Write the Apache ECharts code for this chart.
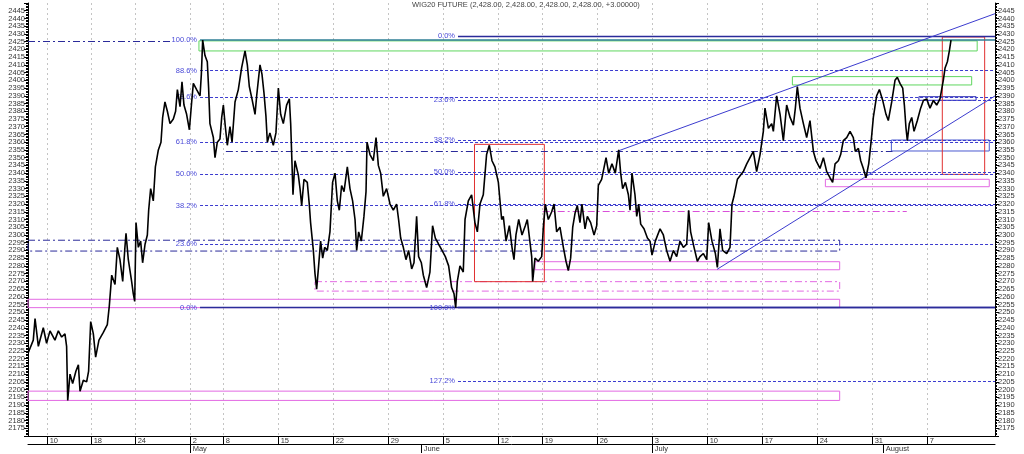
<!DOCTYPE html>
<html>
<head>
<meta charset="utf-8">
<title>WIG20 FUTURE</title>
<script src="https://cdn.jsdelivr.net/npm/echarts@6.0.0/dist/echarts.min.js"></script>
<style>
html, body { margin: 0; padding: 0; background: #fff; }
#chart { width: 1024px; height: 454px; }
</style>
</head>
<body>
<div id="chart"></div>
<script>
// x = trading day number (0 = 4 April 2017), y = index points
var pricePath = [
    [2.24,2224],[2.69,2232],[2.85,2246],[3.15,2228],[3.6,2240],[3.9,2230],[4.21,2238],[4.66,2232],[4.97,2238],[5.27,2234],
    [5.57,2236],[5.72,2228],[5.82,2193],[6.03,2210],[6.27,2204],[6.57,2212],[6.79,2216],[6.94,2199],[7.24,2206],[7.54,2205],
    [7.72,2212],[7.91,2244],[8.15,2236],[8.36,2221],[8.66,2232],[9.06,2237],[9.42,2242],[9.6,2254],[9.82,2274],[10.12,2268],
    [10.33,2292],[10.57,2284],[10.82,2270],[11.0,2290],[11.12,2301],[11.33,2284],[11.63,2270],[11.78,2262],[11.91,2257],[12.03,2308],
    [12.24,2292],[12.45,2296],[12.63,2282],[12.85,2294],[13.06,2300],[13.18,2316],[13.36,2330],[13.6,2322],[13.79,2344],[14.06,2355],
    [14.3,2360],[14.45,2376],[14.66,2386],[14.88,2380],[15.12,2372],[15.42,2375],[15.63,2380],[15.79,2394],[16.03,2383],[16.21,2399],
    [16.39,2384],[16.63,2378],[16.88,2368],[17.09,2386],[17.24,2398],[17.54,2394],[17.85,2390],[17.97,2404],[18.09,2426],[18.3,2416],
    [18.51,2412],[18.63,2395],[18.75,2372],[19.06,2363],[19.21,2350],[19.42,2360],[19.66,2362],[19.82,2376],[19.97,2384],[20.15,2370],
    [20.33,2358],[20.57,2370],[20.76,2360],[21.03,2386],[21.33,2394],[21.63,2408],[21.94,2419],[22.15,2410],[22.33,2396],[22.57,2388],
    [22.85,2378],[23.0,2390],[23.3,2410],[23.48,2404],[23.66,2392],[23.84,2377],[23.97,2360],[24.2,2366],[24.51,2358],[24.75,2366],
    [24.97,2395],[25.18,2378],[25.42,2372],[25.72,2384],[25.97,2388],[26.09,2372],[26.21,2346],[26.3,2326],[26.48,2348],[26.78,2339],
    [26.94,2330],[27.09,2319],[27.3,2336],[27.6,2334],[27.78,2320],[27.9,2308],[28.15,2290],[28.3,2275],[28.45,2265],[28.63,2280],
    [28.81,2296],[29.0,2285],[29.18,2292],[29.42,2290],[29.66,2302],[29.9,2334],[30.12,2340],[30.33,2322],[30.51,2316],[30.72,2332],
    [30.94,2328],[31.24,2344],[31.48,2330],[31.72,2322],[31.94,2310],[32.09,2290],[32.27,2302],[32.51,2296],[32.75,2312],[32.94,2328],
    [33.03,2360],[33.3,2352],[33.6,2348],[33.85,2363],[34.06,2345],[34.27,2340],[34.51,2325],[34.81,2330],[35.12,2320],[35.42,2316],
    [35.72,2320],[35.9,2310],[36.09,2298],[36.33,2292],[36.57,2284],[36.81,2290],[37.09,2278],[37.3,2282],[37.54,2312],[37.72,2286],
    [37.97,2282],[38.15,2274],[38.45,2266],[38.75,2276],[38.99,2306],[39.24,2298],[39.54,2294],[39.85,2290],[40.15,2286],[40.45,2280],
    [40.72,2266],[40.94,2262],[41.09,2253],[41.24,2270],[41.48,2280],[41.78,2276],[41.94,2310],[42.24,2322],[42.54,2326],[42.84,2308],
    [43.06,2302],[43.3,2320],[43.6,2326],[43.9,2352],[44.15,2358],[44.39,2348],[44.66,2344],[44.97,2334],[45.27,2310],[45.42,2312],
    [45.67,2296],[45.97,2306],[46.21,2292],[46.39,2284],[46.57,2300],[46.82,2310],[47.12,2300],[47.42,2306],[47.6,2310],[47.85,2295],
    [48.0,2286],[48.09,2270],[48.3,2285],[48.6,2283],[48.91,2286],[49.06,2305],[49.24,2320],[49.51,2310],[49.82,2315],[50.03,2320],
    [50.27,2302],[50.57,2305],[50.88,2292],[51.12,2283],[51.33,2277],[51.54,2285],[51.73,2305],[51.94,2314],[52.15,2319],[52.39,2308],
    [52.57,2320],[52.85,2304],[53.06,2312],[53.36,2308],[53.67,2300],[53.91,2306],[54.06,2332],[54.36,2336],[54.76,2350],[55.0,2340],
    [55.3,2346],[55.6,2340],[55.91,2355],[56.09,2340],[56.27,2330],[56.52,2334],[56.79,2326],[56.94,2316],[57.12,2340],[57.39,2326],
    [57.55,2312],[57.73,2320],[57.91,2307],[58.21,2304],[58.52,2298],[58.76,2296],[58.94,2287],[59.24,2296],[59.67,2304],[59.97,2300],
    [60.27,2290],[60.58,2283],[60.88,2290],[61.18,2286],[61.48,2296],[61.79,2292],[62.09,2294],[62.27,2316],[62.45,2302],[62.76,2292],
    [63.06,2283],[63.3,2286],[63.61,2288],[63.91,2284],[64.09,2308],[64.39,2296],[64.7,2288],[64.88,2279],[65.12,2304],[65.36,2290],
    [65.73,2288],[66.03,2292],[66.21,2320],[66.39,2325],[66.7,2336],[67.24,2341],[67.55,2346],[67.85,2350],[68.15,2354],[68.45,2341],
    [68.76,2352],[69.06,2367],[69.21,2382],[69.52,2369],[69.82,2372],[69.97,2367],[70.27,2390],[70.58,2378],[70.88,2361],[71.18,2384],
    [71.49,2376],[71.79,2371],[71.97,2382],[72.15,2396],[72.39,2382],[72.7,2372],[73.0,2363],[73.3,2374],[73.61,2354],[73.85,2348],
    [74.21,2343],[74.52,2350],[74.82,2341],[75.12,2337],[75.36,2334],[75.58,2346],[75.88,2348],[76.09,2352],[76.33,2361],[76.64,2363],
    [76.94,2367],[77.24,2363],[77.42,2354],[77.7,2356],[77.91,2348],[78.15,2343],[78.39,2337],[78.64,2346],[78.88,2362],[79.06,2376],
    [79.36,2390],[79.61,2394],[79.91,2387],[80.21,2378],[80.42,2374],[80.73,2386],[81.03,2400],[81.24,2402],[81.48,2398],[81.73,2395],
    [81.88,2384],[82.03,2369],[82.15,2361],[82.33,2372],[82.55,2376],[82.76,2367],[83.06,2374],[83.36,2382],[83.61,2387],[83.91,2388],
    [84.21,2382],[84.52,2387],[84.82,2384],[85.12,2388],[85.27,2394],[85.42,2400],[85.58,2408],[85.79,2412],[85.97,2419],[86.12,2426]
];

var weekTickDays = [4, 8, 12, 17, 20, 25, 30, 35, 40, 45, 49, 54, 59, 64, 69, 74, 79, 84];
var weekTickLabels = ['10', '18', '24', '2', '8', '15', '22', '29', '5', '12', '19', '26', '3', '10', '17', '24', '31', '7'];
var monthTickDays = [17, 38, 59, 80];
var monthTickLabels = ['May', 'June', 'July', 'August'];

// fibonacci sets: [start day, end day], levels and labels
var fibLeftSpan = [17.85, 90.12];
var fibLeftLabels = ['100.0%', '88.6%', '78.6%', '61.8%', '50.0%', '38.2%', '23.6%', '0.0%'];
var fibLeftValues = [2426, 2406.3, 2389, 2360, 2339.5, 2319, 2294, 2253];
var fibRightSpan = [41.3, 90.12];
var fibRightLabels = ['0.0%', '23.6%', '38.2%', '50.0%', '61.8%', '100.0%', '127.2%'];
var fibRightValues = [2428.5, 2387, 2361.5, 2340.7, 2320, 2253, 2205.5];

// zones: [day from, top, day to, bottom]
var greenZones = [[17.75, 2425.5, 88.5, 2419], [71.7, 2402.4, 88.0, 2397]];
var navyZones = [[83.2, 2389.4, 88.4, 2387.1]];
var blueZones = [[80.7, 2361.4, 89.6, 2354.3]];
var pinkZones = [[74.7, 2336, 89.6, 2331.2], [48.3, 2282.7, 76.0, 2277.5], [2.21, 2258.4, 76.0, 2253], [2.21, 2199, 76.0, 2193]];
var pinkDashZones = [[28.3, 2269.8, 76.0, 2263.7]];
var navyDashZones = [[2.21, 2296.6, 76.0, 2289.6]];
var redZones = [[42.8, 2358.6, 49.15, 2269.8], [85.33, 2428, 89.18, 2339.2]];

// lines: [day from, day to, level]
var navyDashLines = [[2.21, 15.4, 2425.5], [20.2, 80.8, 2354.3]];
var pinkDashLines = [[49.0, 82.1, 2315.5]];
// trend lines: [day, value, day, value]
var trendLines = [[55.85, 2354.3, 90.12, 2443.1], [64.86, 2277.8, 90.12, 2389.9]];

var fontFamily = 'Liberation Sans, Arial, sans-serif';
var dashDot = [7, 3, 2, 3];

var fibDash = { color: '#3c3ccf', width: 1, type: [3, 2] };
var navySolid = { color: '#2b2b9a', width: 1.3, type: 'solid' };
var tealSolid = { color: '#2f7f96', width: 1.6, type: 'solid' };

function $each(arr, fn) {
    for (var i = 0; i < arr.length; i++) fn(arr[i], i);
}

function fibLabel(text) {
    return {
        show: true, position: 'start', distance: 3, formatter: text,
        color: '#4a4ad8', fontSize: 7.5, fontFamily: fontFamily
    };
}

function hLine(d1, d2, v, style, text) {
    return [
        { coord: [d1, v], lineStyle: style, label: text ? fibLabel(text) : { show: false } },
        { coord: [d2, v] }
    ];
}

function box(z, color, type) {
    return [
        { coord: [z[0], z[1]], itemStyle: { color: 'rgba(0,0,0,0)', borderColor: color, borderWidth: 1, borderType: type || 'solid' } },
        { coord: [z[2], z[3]] }
    ];
}

var lines = [];
$each(fibLeftValues, function(v, i) {
    var style = fibDash;
    if (i === 0) style = tealSolid;
    if (fibLeftLabels[i] === '0.0%') style = navySolid;
    lines.push(hLine(fibLeftSpan[0], fibLeftSpan[1], v, style, fibLeftLabels[i]));
});
$each(fibRightValues, function(v, i) {
    var style = (fibRightLabels[i] === '0.0%' || fibRightLabels[i] === '100.0%') ? navySolid : fibDash;
    lines.push(hLine(fibRightSpan[0], fibRightSpan[1], v, style, fibRightLabels[i]));
});
$each(navyDashLines, function(l) {
    lines.push(hLine(l[0], l[1], l[2], { color: '#2b2b9a', width: 1, type: dashDot }));
});
$each(pinkDashLines, function(l) {
    lines.push(hLine(l[0], l[1], l[2], { color: '#d94fd9', width: 1, type: dashDot }));
});
$each(trendLines, function(t) {
    lines.push([
        { coord: [t[0], t[1]], lineStyle: { color: '#3c3ccf', width: 1, type: 'solid' }, label: { show: false } },
        { coord: [t[2], t[3]] }
    ]);
});

var areas = [];
$each(greenZones, function(z) { areas.push(box(z, '#5fd65f')); });
$each(navyZones, function(z) { areas.push(box(z, '#2b2bb0')); });
$each(blueZones, function(z) { areas.push(box(z, '#4a5ad0')); });
$each(pinkZones, function(z) { areas.push(box(z, '#e36ae3')); });
$each(pinkDashZones, function(z) { areas.push(box(z, '#e36ae3', dashDot)); });
$each(navyDashZones, function(z) { areas.push(box(z, '#2b2b9a', dashDot)); });
$each(redZones, function(z) { areas.push(box(z, '#e03030')); });

function priceAxis(position) {
    return {
        type: 'value',
        position: position,
        min: 2170,
        max: 2450,
        interval: 5,
        axisLine: { show: true, lineStyle: { color: '#000', width: 1 } },
        axisTick: { show: true, length: 4, lineStyle: { color: '#000' } },
        minorTick: { show: true, splitNumber: 5, length: 2, lineStyle: { color: '#000' } },
        splitLine: { show: false },
        axisLabel: {
            fontSize: 7.5, color: '#333', margin: 3, fontFamily: fontFamily,
            showMinLabel: false, showMaxLabel: false,
            formatter: function(v) { return String(v); }
        }
    };
}

var chart = echarts.init(document.getElementById('chart'), null, { renderer: 'canvas' });

chart.setOption({
    animation: false,
    backgroundColor: '#fff',
    title: {
        text: 'WIG20 FUTURE (2,428.00, 2,428.00, 2,428.00, 2,428.00, +3.00000)',
        left: 412,
        top: 1,
        padding: 0,
        textStyle: { fontSize: 7.5, fontWeight: 'normal', color: '#444', fontFamily: fontFamily }
    },
    grid: { left: 28, right: 29, top: 3, bottom: 18 },
    xAxis: [{
        type: 'value',
        min: 2.21,
        max: 90.12,
        position: 'bottom',
        axisLine: { show: true, onZero: false, lineStyle: { color: '#000' } },
        axisTick: { show: true, customValues: weekTickDays, length: 8, lineStyle: { color: '#000' } },
        axisLabel: {
            customValues: weekTickDays,
            formatter: function(v) { return weekTickLabels[weekTickDays.indexOf(v)] || ''; },
            align: 'left', margin: 1, padding: [0, 0, 0, 2],
            fontSize: 7.5, color: '#333', fontFamily: fontFamily
        },
        splitLine: { show: true, lineStyle: { color: '#c4c4c4', type: [2, 3] } }
    }, {
        type: 'value',
        min: 2.21,
        max: 90.12,
        position: 'bottom',
        offset: 8,
        axisLine: { show: true, onZero: false, lineStyle: { color: '#000' } },
        axisTick: { show: true, customValues: monthTickDays, length: 9, lineStyle: { color: '#000' } },
        axisLabel: {
            customValues: monthTickDays,
            formatter: function(v) { return monthTickLabels[monthTickDays.indexOf(v)] || ''; },
            align: 'left', margin: 1, padding: [0, 0, 0, 2],
            fontSize: 7.5, color: '#333', fontFamily: fontFamily
        },
        splitLine: { show: false }
    }],
    yAxis: [priceAxis('left'), priceAxis('right')],
    series: [{
        name: 'WIG20 FUTURE',
        type: 'line',
        xAxisIndex: 0,
        yAxisIndex: 0,
        data: pricePath,
        showSymbol: false,
        clip: true,
        z: 5,
        lineStyle: { color: '#000', width: 1.6 },
        markLine: {
            silent: true,
            symbol: ['none', 'none'],
            animation: false,
            data: lines
        },
        markArea: {
            silent: true,
            label: { show: false },
            animation: false,
            data: areas
        }
    }]
});
</script>
</body>
</html>
